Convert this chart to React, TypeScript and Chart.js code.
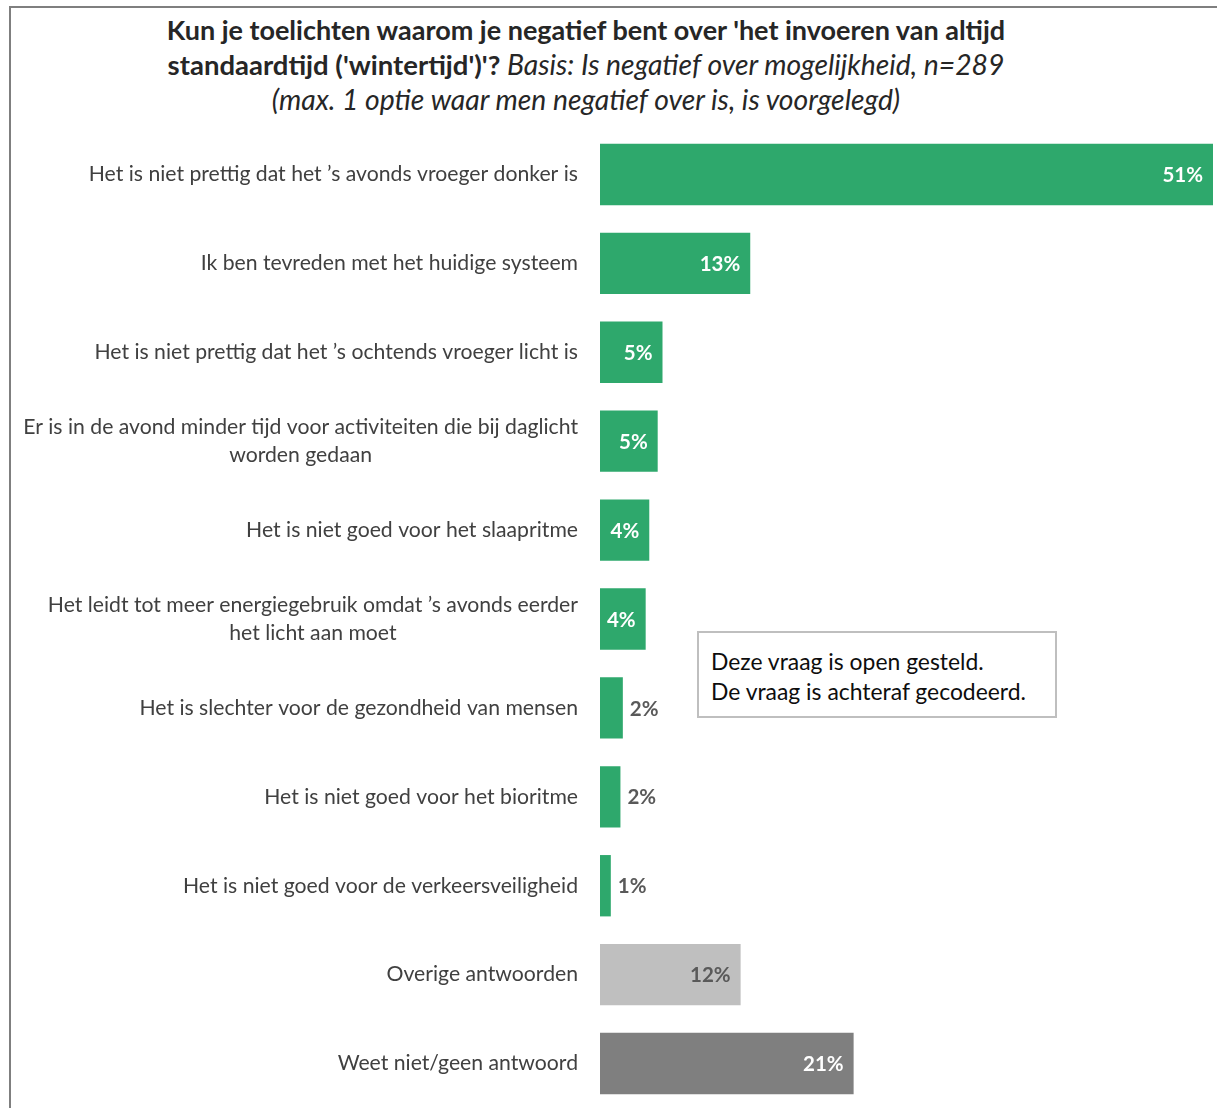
import React, { useEffect, useRef } from "react";
import { Chart, registerables } from "chart.js";

Chart.register(...registerables);

const categories: string[][] = [
  ["Het is niet prettig dat het ’s avonds vroeger donker is"],
  ["Ik ben tevreden met het huidige systeem"],
  ["Het is niet prettig dat het ’s ochtends vroeger licht is"],
  ["Er is in de avond minder tijd voor activiteiten die bij daglicht", "worden gedaan"],
  ["Het is niet goed voor het slaapritme"],
  ["Het leidt tot meer energiegebruik omdat ’s avonds eerder", "het licht aan moet"],
  ["Het is slechter voor de gezondheid van mensen"],
  ["Het is niet goed voor het bioritme"],
  ["Het is niet goed voor de verkeersveiligheid"],
  ["Overige antwoorden"],
  ["Weet niet/geen antwoord"],
];

const values: number[] = [51, 12.5, 5.2, 4.8, 4.1, 3.8, 1.9, 1.7, 0.9, 11.7, 21.1];
const valueLabels: string[] = ["51%", "13%", "5%", "5%", "4%", "4%", "2%", "2%", "1%", "12%", "21%"];

const titleBold1 = "Kun je toelichten waarom je negatief bent over 'het invoeren van altijd";
const titleBold2 = "standaardtijd ('wintertijd')'?";
const titleItalic2 = " Basis: Is negatief over mogelijkheid, n=289";
const titleItalic3 = "(max. 1 optie waar men negatief over is, is voorgelegd)";
const noteLines: string[] = ["Deze vraag is open gesteld.", "De vraag is achteraf gecodeerd."];

const GREEN = "#2EA86C";
const LIGHT_GRAY = "#BFBFBF";
const DARK_GRAY = "#7F7F7F";
const FONT = "Lato, 'Open Sans', sans-serif";

function barColor(i: number): string {
  if (categories[i][0] === "Overige antwoorden") return LIGHT_GRAY;
  if (categories[i][0] === "Weet niet/geen antwoord") return DARK_GRAY;
  return GREEN;
}

const labelPlugin = {
  id: "customLabels",
  afterDatasetsDraw(chart: any) {
    const ctx = chart.ctx as CanvasRenderingContext2D;
    const yScale = chart.scales.y;
    const area = chart.chartArea;
    ctx.save();
    // category labels
    ctx.font = `21.2px ${FONT}`;
    ctx.fillStyle = "#404040";
    ctx.textBaseline = "middle";
    ctx.textAlign = "center";
    const rightEdge = area.left - 22;
    const lineH = 28;
    categories.forEach((lines, i) => {
      const yc = yScale.getPixelForValue(i);
      const w = Math.max(...lines.map((l) => ctx.measureText(l).width));
      const cx = rightEdge - w / 2;
      const y0 = yc - ((lines.length - 1) * lineH) / 2;
      lines.forEach((l, k) => ctx.fillText(l, cx, y0 + k * lineH));
    });
    // value labels
    const meta = chart.getDatasetMeta(0);
    ctx.font = `bold 20.5px ${FONT}`;
    meta.data.forEach((bar: any, i: number) => {
      const v = values[i];
      const txt = valueLabels[i];
      const inside = v >= 3;
      if (inside) {
        const col = barColor(i);
        ctx.fillStyle = col === LIGHT_GRAY ? "#595959" : "#FFFFFF";
        const tw = ctx.measureText(txt).width;
        let xr = bar.x - 10;
        if (xr - tw < bar.base + 6) xr = bar.base + 6 + tw;
        ctx.textAlign = "right";
        ctx.fillText(txt, xr, bar.y + 1);
      } else {
        ctx.fillStyle = "#595959";
        ctx.textAlign = "left";
        ctx.fillText(txt, bar.x + 7, bar.y + 1);
      }
    });
    ctx.restore();
  },
};

export default function App() {
  const canvasRef = useRef<HTMLCanvasElement | null>(null);

  useEffect(() => {
    document.body.style.overflow = "hidden";
    const canvas = canvasRef.current;
    if (!canvas) return;
    const chart = new Chart(canvas, {
      type: "bar",
      data: {
        labels: categories.map((c) => c.join(" ")),
        datasets: [
          {
            data: values,
            backgroundColor: values.map((_, i) => barColor(i)),
            borderWidth: 0,
            barPercentage: 0.69,
            categoryPercentage: 1,
          },
        ],
      },
      options: {
        indexAxis: "y",
        responsive: false,
        maintainAspectRatio: false,
        animation: false,
        layout: { padding: { left: 600, right: 4, top: 130, bottom: 0 } },
        plugins: {
          legend: { display: false },
          tooltip: { enabled: false },
          title: { display: false },
        },
        scales: {
          x: { display: false, min: 0, max: 51 },
          y: { display: false },
        },
      },
      plugins: [labelPlugin],
    });
    return () => chart.destroy();
  }, []);

  const italic = { fontStyle: "italic" as const, fontSize: 28.3 };

  return (
    <div
      style={{
        position: "absolute",
        left: 0,
        top: 0,
        width: 1217,
        height: 1108,
        overflow: "hidden",
        background: "#FFFFFF",
      }}
    >
      <div
        style={{
          position: "absolute",
          left: 9,
          top: 6,
          width: 1400,
          height: 1300,
          borderLeft: "2px solid #7F7F7F",
          borderTop: "2px solid #7F7F7F",
        }}
      />
      <div
        style={{
          position: "absolute",
          left: 0,
          top: 12,
          width: 1172,
          textAlign: "center",
          fontFamily: FONT,
          fontSize: 27,
          lineHeight: "35px",
          color: "#262626",
          whiteSpace: "nowrap",
        }}
      >
        <div style={{ fontWeight: "bold", height: 35 }}>{titleBold1}</div>
        <div style={{ height: 35 }}>
          <span style={{ fontWeight: "bold", fontSize: 27.5 }}>{titleBold2}</span>
          <span style={italic}>{titleItalic2}</span>
        </div>
        <div style={{ ...italic, height: 35 }}>{titleItalic3}</div>
      </div>
      <canvas
        ref={canvasRef}
        width={1217}
        height={1108}
        style={{ position: "absolute", left: 0, top: 0, width: 1217, height: 1108 }}
      />
      <div
        style={{
          position: "absolute",
          left: 697,
          top: 631,
          width: 344,
          height: 70,
          border: "2px solid #BFBFBF",
          background: "#FFFFFF",
          fontFamily: FONT,
          fontSize: 22.9,
          lineHeight: "30px",
          color: "#0D0D0D",
          paddingLeft: 12,
          paddingTop: 13,
          boxSizing: "content-box" as const,
        }}
      >
        {noteLines.map((l) => (
          <div key={l} style={{ whiteSpace: "nowrap" }}>{l}</div>
        ))}
      </div>
    </div>
  );
}
